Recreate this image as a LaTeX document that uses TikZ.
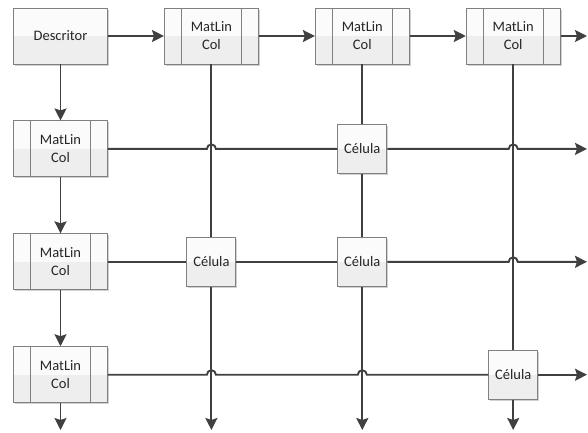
\documentclass[tikz,border=0pt]{standalone}
\usepackage{fontspec}
\setmainfont{Carlito}
\usepackage{tikz}
\usetikzlibrary{arrows.meta,positioning,shadows}

\definecolor{edge}{HTML}{808080}
\definecolor{wire}{HTML}{404040}
\newcommand{\boxfont}{\fontsize{14.5}{18}\selectfont\color{black!85}}

\begin{document}
\begin{tikzpicture}[x=1pt, y=-1pt,
  cellbox/.style={rectangle, draw=edge, line width=0.9pt, fill=gray!3,
    font=\boxfont, align=center, inner sep=0pt,
    drop shadow={shadow xshift=1.5pt, shadow yshift=-1.5pt, fill=black!30, opacity=.6},
    path picture={\fill[gray!13] (path picture bounding box.west)
      rectangle (path picture bounding box.south east);}},
  desc/.style={cellbox, minimum width=94pt, minimum height=56pt},
  celula/.style={cellbox, minimum width=49pt, minimum height=49pt},
  matlin/.style={cellbox, minimum width=94pt, minimum height=56pt,
    path picture={\fill[gray!13] (path picture bounding box.west)
      rectangle (path picture bounding box.south east);
      \draw[edge, line width=0.9pt]
        ([xshift=17pt]path picture bounding box.north west) --
        ([xshift=17pt]path picture bounding box.south west);
      \draw[edge, line width=0.9pt]
        ([xshift=-17pt]path picture bounding box.north east) --
        ([xshift=-17pt]path picture bounding box.south east);}},
  wireln/.style={draw=wire, line width=1.9pt},
  arr/.style={wireln, -{Stealth[length=12pt, width=12pt, inset=2pt]}}
]
  \useasboundingbox (0,0) rectangle (588,432);

  % header row
  \node[desc] (dsc) at (60.5,36) {Descritor};
  \node[matlin, right=56pt of dsc] (m1) {MatLin\\Col};
  \node[matlin, right=56pt of m1]  (m2) {MatLin\\Col};
  \node[matlin, right=56pt of m2]  (m3) {MatLin\\Col};

  % row heads
  \node[matlin, below=56pt of dsc] (r1) {MatLin\\Col};
  \node[matlin, below=56pt of r1]  (r2) {MatLin\\Col};
  \node[matlin, below=56pt of r2]  (r3) {MatLin\\Col};

  % cells
  \node[celula] (c12) at (m2 |- r1) {Célula};
  \node[celula] (c21) at (m1 |- r2) {Célula};
  \node[celula] (c22) at (m2 |- r2) {Célula};
  \node[celula] (c33) at (m3 |- r3) {Célula};

  \coordinate (rgt) at (587,0);
  \coordinate (bot) at (0,430);

  % header links
  \draw[arr] (dsc) -- (m1);
  \draw[arr] (m1) -- (m2);
  \draw[arr] (m2) -- (m3);
  \draw[arr] (m3) -- (rgt |- m3);
  \draw[arr] (dsc) -- (r1);
  \draw[arr] (r1) -- (r2);
  \draw[arr] (r2) -- (r3);
  \draw[arr] (r3) -- (r3 |- bot);

  % columns
  \draw[wireln] (m1) -- (c21);
  \draw[arr] (c21) -- (m1 |- bot);
  \draw[wireln] (m2) -- (c12);
  \draw[wireln] (c12) -- (c22);
  \draw[arr] (c22) -- (m2 |- bot);
  \draw[wireln] (m3) -- (c33);
  \draw[arr] (c33) -- (m3 |- bot);

  % rows (hop over the columns)
  \draw[wireln] (r1) -- ([xshift=-4.5pt]m1 |- r1)
    arc[start angle=180, end angle=0, radius=4.5pt] -- (c12);
  \draw[arr] (c12) -- ([xshift=-4.5pt]m3 |- r1)
    arc[start angle=180, end angle=0, radius=4.5pt] -- (rgt |- r1);
  \draw[wireln] (r2) -- (c21);
  \draw[wireln] (c21) -- (c22);
  \draw[arr] (c22) -- ([xshift=-4.5pt]m3 |- r2)
    arc[start angle=180, end angle=0, radius=4.5pt] -- (rgt |- r2);
  \draw[wireln] (r3) -- ([xshift=-4.5pt]m1 |- r3)
    arc[start angle=180, end angle=0, radius=4.5pt]
    -- ([xshift=-4.5pt]m2 |- r3)
    arc[start angle=180, end angle=0, radius=4.5pt] -- (c33);
  \draw[arr] (c33) -- (rgt |- r3);
\end{tikzpicture}
\end{document}
